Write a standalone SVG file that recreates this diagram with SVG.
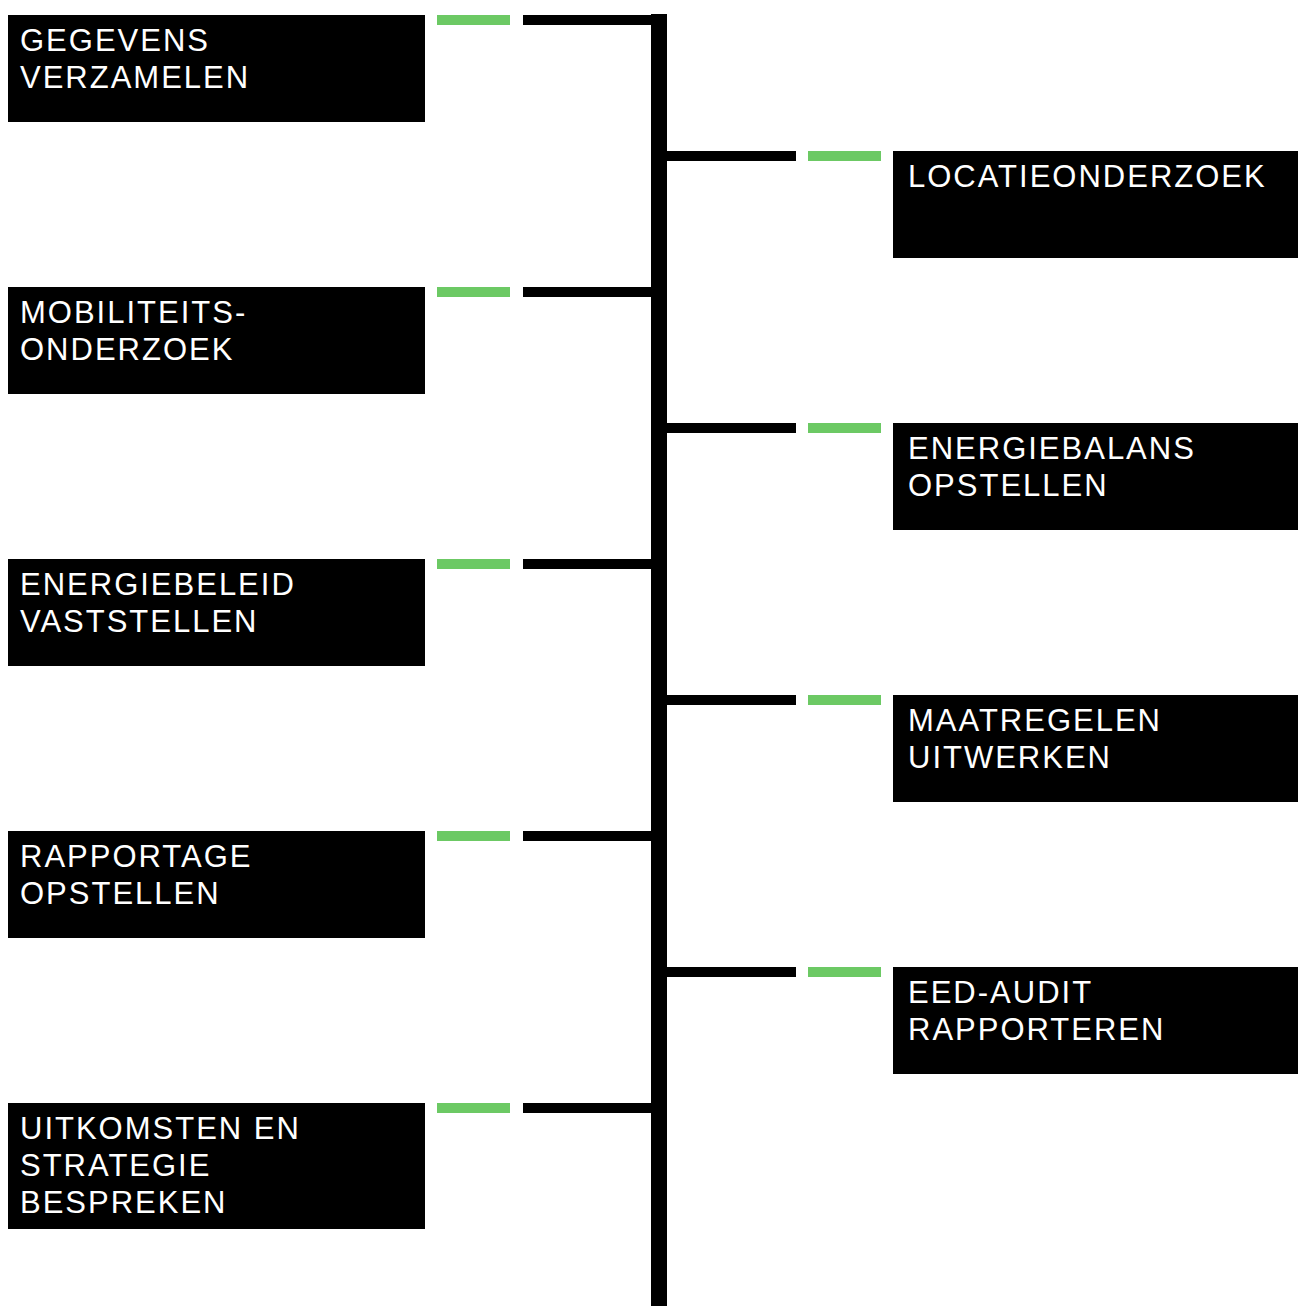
<svg xmlns="http://www.w3.org/2000/svg" width="1298" height="1306" viewBox="0 0 1298 1306">
<style>
.box{fill:#000}
.lbl{fill:#fff;font-family:"Liberation Sans",Arial,sans-serif;font-size:31px;letter-spacing:2px}
.g{fill:#6cc964}
.k{fill:#000}
</style>
<rect width="1298" height="1306" fill="#fff"/>
<g id="connectors">
<rect class="k" x="651" y="14" width="16" height="1292"/>
<rect class="g" x="437" y="15" width="73" height="10"/><rect class="k" x="523" y="15" width="130" height="10"/>
<rect class="g" x="437" y="287" width="73" height="10"/><rect class="k" x="523" y="287" width="130" height="10"/>
<rect class="g" x="437" y="559" width="73" height="10"/><rect class="k" x="523" y="559" width="130" height="10"/>
<rect class="g" x="437" y="831" width="73" height="10"/><rect class="k" x="523" y="831" width="130" height="10"/>
<rect class="g" x="437" y="1103" width="73" height="10"/><rect class="k" x="523" y="1103" width="130" height="10"/>
<rect class="k" x="665" y="151" width="131" height="10"/><rect class="g" x="808" y="151" width="73" height="10"/>
<rect class="k" x="665" y="423" width="131" height="10"/><rect class="g" x="808" y="423" width="73" height="10"/>
<rect class="k" x="665" y="695" width="131" height="10"/><rect class="g" x="808" y="695" width="73" height="10"/>
<rect class="k" x="665" y="967" width="131" height="10"/><rect class="g" x="808" y="967" width="73" height="10"/>
</g>
<g id="n1"><rect class="box" x="8" y="15" width="417" height="107"/><text class="lbl" x="20" y="51">GEGEVENS</text><text class="lbl" x="20" y="88">VERZAMELEN</text></g>
<g id="n2"><rect class="box" x="8" y="287" width="417" height="107"/><text class="lbl" x="20" y="323">MOBILITEITS-</text><text class="lbl" x="20" y="360">ONDERZOEK</text></g>
<g id="n3"><rect class="box" x="8" y="559" width="417" height="107"/><text class="lbl" x="20" y="595">ENERGIEBELEID</text><text class="lbl" x="20" y="632">VASTSTELLEN</text></g>
<g id="n4"><rect class="box" x="8" y="831" width="417" height="107"/><text class="lbl" x="20" y="867">RAPPORTAGE</text><text class="lbl" x="20" y="904">OPSTELLEN</text></g>
<g id="n5"><rect class="box" x="8" y="1103" width="417" height="126"/><text class="lbl" x="20" y="1139">UITKOMSTEN EN</text><text class="lbl" x="20" y="1176">STRATEGIE</text><text class="lbl" x="20" y="1213">BESPREKEN</text></g>
<g id="n6"><rect class="box" x="893" y="151" width="405" height="107"/><text class="lbl" x="908" y="187">LOCATIEONDERZOEK</text></g>
<g id="n7"><rect class="box" x="893" y="423" width="405" height="107"/><text class="lbl" x="908" y="459">ENERGIEBALANS</text><text class="lbl" x="908" y="496">OPSTELLEN</text></g>
<g id="n8"><rect class="box" x="893" y="695" width="405" height="107"/><text class="lbl" x="908" y="731">MAATREGELEN</text><text class="lbl" x="908" y="768">UITWERKEN</text></g>
<g id="n9"><rect class="box" x="893" y="967" width="405" height="107"/><text class="lbl" x="908" y="1003">EED-AUDIT</text><text class="lbl" x="908" y="1040">RAPPORTEREN</text></g>
</svg>
